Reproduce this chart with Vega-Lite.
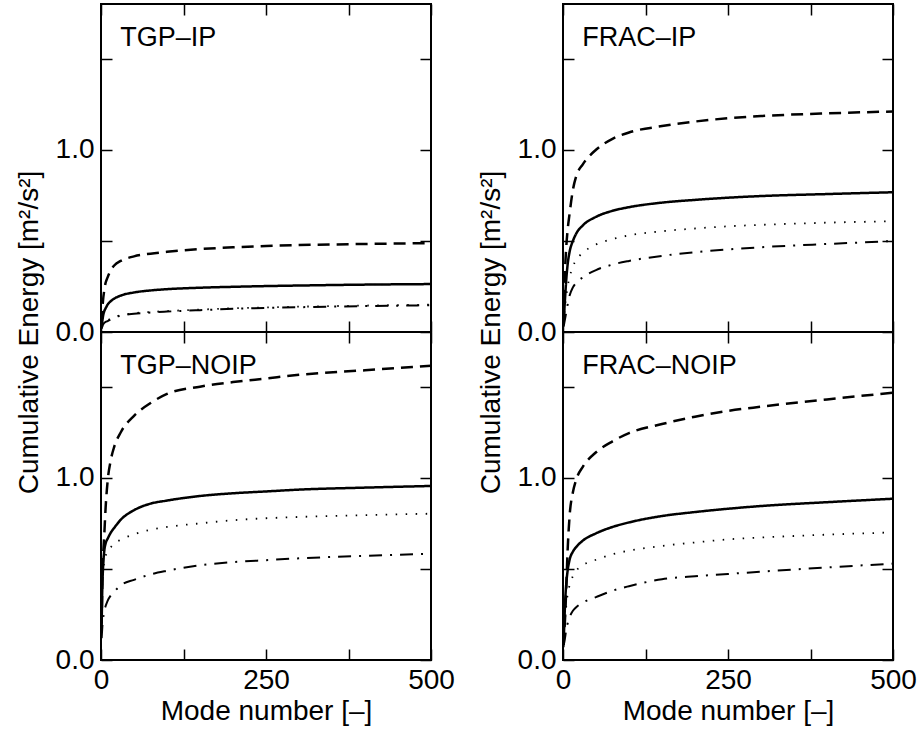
{
  "$schema": "https://vega.github.io/schema/vega-lite/v6.json",
  "background": "white",
  "padding": {"left": 14, "top": 2, "right": 5, "bottom": 5},
  "datasets": {
    "labels": [
      {"p": "TGP-IP", "label": "TGP–IP"},
      {"p": "FRAC-IP", "label": "FRAC–IP"},
      {"p": "TGP-NOIP", "label": "TGP–NOIP"},
      {"p": "FRAC-NOIP", "label": "FRAC–NOIP"}
    ],
    "curves": [
      {"p":"TGP-IP","s":"A","x":1,"y":0.02},{"p":"TGP-IP","s":"A","x":2,"y":0.06},{"p":"TGP-IP","s":"A","x":3,"y":0.085},{"p":"TGP-IP","s":"A","x":5,"y":0.115},{"p":"TGP-IP","s":"A","x":7,"y":0.13},{"p":"TGP-IP","s":"A","x":10,"y":0.15},{"p":"TGP-IP","s":"A","x":15,"y":0.17},{"p":"TGP-IP","s":"A","x":20,"y":0.183},{"p":"TGP-IP","s":"A","x":30,"y":0.2},{"p":"TGP-IP","s":"A","x":50,"y":0.217},{"p":"TGP-IP","s":"A","x":75,"y":0.228},{"p":"TGP-IP","s":"A","x":100,"y":0.235},{"p":"TGP-IP","s":"A","x":150,"y":0.243},{"p":"TGP-IP","s":"A","x":200,"y":0.248},{"p":"TGP-IP","s":"A","x":250,"y":0.252},{"p":"TGP-IP","s":"A","x":300,"y":0.255},{"p":"TGP-IP","s":"A","x":400,"y":0.26},{"p":"TGP-IP","s":"A","x":500,"y":0.263},
      {"p":"TGP-IP","s":"B","x":1,"y":0.05},{"p":"TGP-IP","s":"B","x":2,"y":0.12},{"p":"TGP-IP","s":"B","x":3,"y":0.17},{"p":"TGP-IP","s":"B","x":5,"y":0.23},{"p":"TGP-IP","s":"B","x":7,"y":0.27},{"p":"TGP-IP","s":"B","x":10,"y":0.3},{"p":"TGP-IP","s":"B","x":15,"y":0.34},{"p":"TGP-IP","s":"B","x":20,"y":0.365},{"p":"TGP-IP","s":"B","x":30,"y":0.39},{"p":"TGP-IP","s":"B","x":50,"y":0.415},{"p":"TGP-IP","s":"B","x":75,"y":0.43},{"p":"TGP-IP","s":"B","x":100,"y":0.44},{"p":"TGP-IP","s":"B","x":150,"y":0.455},{"p":"TGP-IP","s":"B","x":200,"y":0.465},{"p":"TGP-IP","s":"B","x":250,"y":0.472},{"p":"TGP-IP","s":"B","x":300,"y":0.477},{"p":"TGP-IP","s":"B","x":400,"y":0.483},{"p":"TGP-IP","s":"B","x":500,"y":0.488},
      {"p":"TGP-IP","s":"C","x":1,"y":0.03},{"p":"TGP-IP","s":"C","x":2,"y":0.04},{"p":"TGP-IP","s":"C","x":3,"y":0.045},{"p":"TGP-IP","s":"C","x":5,"y":0.055},{"p":"TGP-IP","s":"C","x":7,"y":0.06},{"p":"TGP-IP","s":"C","x":10,"y":0.065},{"p":"TGP-IP","s":"C","x":15,"y":0.073},{"p":"TGP-IP","s":"C","x":20,"y":0.082},{"p":"TGP-IP","s":"C","x":30,"y":0.092},{"p":"TGP-IP","s":"C","x":50,"y":0.103},{"p":"TGP-IP","s":"C","x":75,"y":0.11},{"p":"TGP-IP","s":"C","x":100,"y":0.115},{"p":"TGP-IP","s":"C","x":150,"y":0.123},{"p":"TGP-IP","s":"C","x":200,"y":0.13},{"p":"TGP-IP","s":"C","x":250,"y":0.135},{"p":"TGP-IP","s":"C","x":300,"y":0.139},{"p":"TGP-IP","s":"C","x":400,"y":0.145},{"p":"TGP-IP","s":"C","x":500,"y":0.15},
      {"p":"TGP-IP","s":"D","x":1,"y":0.02},{"p":"TGP-IP","s":"D","x":2,"y":0.03},{"p":"TGP-IP","s":"D","x":3,"y":0.04},{"p":"TGP-IP","s":"D","x":5,"y":0.05},{"p":"TGP-IP","s":"D","x":7,"y":0.055},{"p":"TGP-IP","s":"D","x":10,"y":0.06},{"p":"TGP-IP","s":"D","x":15,"y":0.07},{"p":"TGP-IP","s":"D","x":20,"y":0.08},{"p":"TGP-IP","s":"D","x":30,"y":0.09},{"p":"TGP-IP","s":"D","x":50,"y":0.1},{"p":"TGP-IP","s":"D","x":75,"y":0.107},{"p":"TGP-IP","s":"D","x":100,"y":0.112},{"p":"TGP-IP","s":"D","x":150,"y":0.12},{"p":"TGP-IP","s":"D","x":200,"y":0.127},{"p":"TGP-IP","s":"D","x":250,"y":0.132},{"p":"TGP-IP","s":"D","x":300,"y":0.136},{"p":"TGP-IP","s":"D","x":400,"y":0.142},{"p":"TGP-IP","s":"D","x":500,"y":0.147},

      {"p":"TGP-NOIP","s":"A","x":1,"y":0.2},{"p":"TGP-NOIP","s":"A","x":2,"y":0.4},{"p":"TGP-NOIP","s":"A","x":3,"y":0.5},{"p":"TGP-NOIP","s":"A","x":5,"y":0.6},{"p":"TGP-NOIP","s":"A","x":7,"y":0.64},{"p":"TGP-NOIP","s":"A","x":10,"y":0.665},{"p":"TGP-NOIP","s":"A","x":15,"y":0.7},{"p":"TGP-NOIP","s":"A","x":20,"y":0.725},{"p":"TGP-NOIP","s":"A","x":30,"y":0.77},{"p":"TGP-NOIP","s":"A","x":50,"y":0.822},{"p":"TGP-NOIP","s":"A","x":75,"y":0.858},{"p":"TGP-NOIP","s":"A","x":100,"y":0.875},{"p":"TGP-NOIP","s":"A","x":150,"y":0.9},{"p":"TGP-NOIP","s":"A","x":200,"y":0.915},{"p":"TGP-NOIP","s":"A","x":250,"y":0.925},{"p":"TGP-NOIP","s":"A","x":300,"y":0.935},{"p":"TGP-NOIP","s":"A","x":400,"y":0.946},{"p":"TGP-NOIP","s":"A","x":500,"y":0.955},
      {"p":"TGP-NOIP","s":"B","x":1,"y":0.18},{"p":"TGP-NOIP","s":"B","x":2,"y":0.43},{"p":"TGP-NOIP","s":"B","x":3,"y":0.55},{"p":"TGP-NOIP","s":"B","x":5,"y":0.69},{"p":"TGP-NOIP","s":"B","x":7,"y":0.836},{"p":"TGP-NOIP","s":"B","x":10,"y":0.98},{"p":"TGP-NOIP","s":"B","x":15,"y":1.1},{"p":"TGP-NOIP","s":"B","x":20,"y":1.17},{"p":"TGP-NOIP","s":"B","x":30,"y":1.25},{"p":"TGP-NOIP","s":"B","x":50,"y":1.34},{"p":"TGP-NOIP","s":"B","x":75,"y":1.41},{"p":"TGP-NOIP","s":"B","x":100,"y":1.46},{"p":"TGP-NOIP","s":"B","x":150,"y":1.5},{"p":"TGP-NOIP","s":"B","x":200,"y":1.525},{"p":"TGP-NOIP","s":"B","x":250,"y":1.545},{"p":"TGP-NOIP","s":"B","x":300,"y":1.565},{"p":"TGP-NOIP","s":"B","x":400,"y":1.59},{"p":"TGP-NOIP","s":"B","x":500,"y":1.615},
      {"p":"TGP-NOIP","s":"C","x":1,"y":0.3},{"p":"TGP-NOIP","s":"C","x":2,"y":0.42},{"p":"TGP-NOIP","s":"C","x":3,"y":0.48},{"p":"TGP-NOIP","s":"C","x":5,"y":0.54},{"p":"TGP-NOIP","s":"C","x":7,"y":0.57},{"p":"TGP-NOIP","s":"C","x":10,"y":0.6},{"p":"TGP-NOIP","s":"C","x":15,"y":0.62},{"p":"TGP-NOIP","s":"C","x":20,"y":0.64},{"p":"TGP-NOIP","s":"C","x":30,"y":0.66},{"p":"TGP-NOIP","s":"C","x":50,"y":0.69},{"p":"TGP-NOIP","s":"C","x":75,"y":0.715},{"p":"TGP-NOIP","s":"C","x":100,"y":0.73},{"p":"TGP-NOIP","s":"C","x":150,"y":0.75},{"p":"TGP-NOIP","s":"C","x":200,"y":0.767},{"p":"TGP-NOIP","s":"C","x":250,"y":0.778},{"p":"TGP-NOIP","s":"C","x":300,"y":0.785},{"p":"TGP-NOIP","s":"C","x":400,"y":0.795},{"p":"TGP-NOIP","s":"C","x":500,"y":0.803},
      {"p":"TGP-NOIP","s":"D","x":1,"y":0.12},{"p":"TGP-NOIP","s":"D","x":2,"y":0.18},{"p":"TGP-NOIP","s":"D","x":3,"y":0.22},{"p":"TGP-NOIP","s":"D","x":5,"y":0.27},{"p":"TGP-NOIP","s":"D","x":7,"y":0.296},{"p":"TGP-NOIP","s":"D","x":10,"y":0.325},{"p":"TGP-NOIP","s":"D","x":15,"y":0.355},{"p":"TGP-NOIP","s":"D","x":20,"y":0.375},{"p":"TGP-NOIP","s":"D","x":30,"y":0.41},{"p":"TGP-NOIP","s":"D","x":50,"y":0.44},{"p":"TGP-NOIP","s":"D","x":75,"y":0.47},{"p":"TGP-NOIP","s":"D","x":100,"y":0.49},{"p":"TGP-NOIP","s":"D","x":150,"y":0.52},{"p":"TGP-NOIP","s":"D","x":200,"y":0.537},{"p":"TGP-NOIP","s":"D","x":250,"y":0.548},{"p":"TGP-NOIP","s":"D","x":300,"y":0.558},{"p":"TGP-NOIP","s":"D","x":400,"y":0.572},{"p":"TGP-NOIP","s":"D","x":500,"y":0.583},

      {"p":"FRAC-IP","s":"A","x":1,"y":0.06},{"p":"FRAC-IP","s":"A","x":2,"y":0.12},{"p":"FRAC-IP","s":"A","x":3,"y":0.18},{"p":"FRAC-IP","s":"A","x":5,"y":0.29},{"p":"FRAC-IP","s":"A","x":7,"y":0.37},{"p":"FRAC-IP","s":"A","x":10,"y":0.44},{"p":"FRAC-IP","s":"A","x":15,"y":0.5},{"p":"FRAC-IP","s":"A","x":20,"y":0.54},{"p":"FRAC-IP","s":"A","x":30,"y":0.585},{"p":"FRAC-IP","s":"A","x":50,"y":0.632},{"p":"FRAC-IP","s":"A","x":75,"y":0.665},{"p":"FRAC-IP","s":"A","x":100,"y":0.685},{"p":"FRAC-IP","s":"A","x":150,"y":0.71},{"p":"FRAC-IP","s":"A","x":200,"y":0.725},{"p":"FRAC-IP","s":"A","x":250,"y":0.737},{"p":"FRAC-IP","s":"A","x":300,"y":0.746},{"p":"FRAC-IP","s":"A","x":400,"y":0.757},{"p":"FRAC-IP","s":"A","x":500,"y":0.767},
      {"p":"FRAC-IP","s":"B","x":1,"y":0.06},{"p":"FRAC-IP","s":"B","x":2,"y":0.22},{"p":"FRAC-IP","s":"B","x":3,"y":0.33},{"p":"FRAC-IP","s":"B","x":5,"y":0.47},{"p":"FRAC-IP","s":"B","x":7,"y":0.56},{"p":"FRAC-IP","s":"B","x":10,"y":0.65},{"p":"FRAC-IP","s":"B","x":15,"y":0.78},{"p":"FRAC-IP","s":"B","x":20,"y":0.855},{"p":"FRAC-IP","s":"B","x":30,"y":0.92},{"p":"FRAC-IP","s":"B","x":50,"y":1.0},{"p":"FRAC-IP","s":"B","x":75,"y":1.06},{"p":"FRAC-IP","s":"B","x":100,"y":1.095},{"p":"FRAC-IP","s":"B","x":150,"y":1.13},{"p":"FRAC-IP","s":"B","x":200,"y":1.155},{"p":"FRAC-IP","s":"B","x":250,"y":1.173},{"p":"FRAC-IP","s":"B","x":300,"y":1.185},{"p":"FRAC-IP","s":"B","x":400,"y":1.2},{"p":"FRAC-IP","s":"B","x":500,"y":1.21},
      {"p":"FRAC-IP","s":"C","x":1,"y":0.05},{"p":"FRAC-IP","s":"C","x":2,"y":0.1},{"p":"FRAC-IP","s":"C","x":3,"y":0.14},{"p":"FRAC-IP","s":"C","x":5,"y":0.2},{"p":"FRAC-IP","s":"C","x":7,"y":0.25},{"p":"FRAC-IP","s":"C","x":10,"y":0.3},{"p":"FRAC-IP","s":"C","x":15,"y":0.36},{"p":"FRAC-IP","s":"C","x":20,"y":0.395},{"p":"FRAC-IP","s":"C","x":30,"y":0.435},{"p":"FRAC-IP","s":"C","x":50,"y":0.48},{"p":"FRAC-IP","s":"C","x":75,"y":0.51},{"p":"FRAC-IP","s":"C","x":100,"y":0.53},{"p":"FRAC-IP","s":"C","x":150,"y":0.553},{"p":"FRAC-IP","s":"C","x":200,"y":0.568},{"p":"FRAC-IP","s":"C","x":250,"y":0.58},{"p":"FRAC-IP","s":"C","x":300,"y":0.588},{"p":"FRAC-IP","s":"C","x":400,"y":0.6},{"p":"FRAC-IP","s":"C","x":500,"y":0.608},
      {"p":"FRAC-IP","s":"D","x":1,"y":0.03},{"p":"FRAC-IP","s":"D","x":2,"y":0.05},{"p":"FRAC-IP","s":"D","x":3,"y":0.07},{"p":"FRAC-IP","s":"D","x":5,"y":0.11},{"p":"FRAC-IP","s":"D","x":7,"y":0.15},{"p":"FRAC-IP","s":"D","x":10,"y":0.2},{"p":"FRAC-IP","s":"D","x":15,"y":0.245},{"p":"FRAC-IP","s":"D","x":20,"y":0.27},{"p":"FRAC-IP","s":"D","x":30,"y":0.3},{"p":"FRAC-IP","s":"D","x":50,"y":0.34},{"p":"FRAC-IP","s":"D","x":75,"y":0.37},{"p":"FRAC-IP","s":"D","x":100,"y":0.39},{"p":"FRAC-IP","s":"D","x":150,"y":0.418},{"p":"FRAC-IP","s":"D","x":200,"y":0.438},{"p":"FRAC-IP","s":"D","x":250,"y":0.453},{"p":"FRAC-IP","s":"D","x":300,"y":0.465},{"p":"FRAC-IP","s":"D","x":400,"y":0.483},{"p":"FRAC-IP","s":"D","x":500,"y":0.499},

      {"p":"FRAC-NOIP","s":"A","x":1,"y":0.1},{"p":"FRAC-NOIP","s":"A","x":2,"y":0.2},{"p":"FRAC-NOIP","s":"A","x":3,"y":0.3},{"p":"FRAC-NOIP","s":"A","x":5,"y":0.42},{"p":"FRAC-NOIP","s":"A","x":7,"y":0.49},{"p":"FRAC-NOIP","s":"A","x":10,"y":0.55},{"p":"FRAC-NOIP","s":"A","x":15,"y":0.595},{"p":"FRAC-NOIP","s":"A","x":20,"y":0.62},{"p":"FRAC-NOIP","s":"A","x":30,"y":0.655},{"p":"FRAC-NOIP","s":"A","x":50,"y":0.695},{"p":"FRAC-NOIP","s":"A","x":75,"y":0.73},{"p":"FRAC-NOIP","s":"A","x":100,"y":0.755},{"p":"FRAC-NOIP","s":"A","x":150,"y":0.79},{"p":"FRAC-NOIP","s":"A","x":200,"y":0.812},{"p":"FRAC-NOIP","s":"A","x":250,"y":0.83},{"p":"FRAC-NOIP","s":"A","x":300,"y":0.845},{"p":"FRAC-NOIP","s":"A","x":400,"y":0.866},{"p":"FRAC-NOIP","s":"A","x":500,"y":0.885},
      {"p":"FRAC-NOIP","s":"B","x":1,"y":0.08},{"p":"FRAC-NOIP","s":"B","x":2,"y":0.15},{"p":"FRAC-NOIP","s":"B","x":3,"y":0.22},{"p":"FRAC-NOIP","s":"B","x":5,"y":0.4},{"p":"FRAC-NOIP","s":"B","x":7,"y":0.6},{"p":"FRAC-NOIP","s":"B","x":10,"y":0.79},{"p":"FRAC-NOIP","s":"B","x":15,"y":0.92},{"p":"FRAC-NOIP","s":"B","x":20,"y":0.99},{"p":"FRAC-NOIP","s":"B","x":30,"y":1.06},{"p":"FRAC-NOIP","s":"B","x":50,"y":1.14},{"p":"FRAC-NOIP","s":"B","x":75,"y":1.2},{"p":"FRAC-NOIP","s":"B","x":100,"y":1.245},{"p":"FRAC-NOIP","s":"B","x":150,"y":1.295},{"p":"FRAC-NOIP","s":"B","x":200,"y":1.335},{"p":"FRAC-NOIP","s":"B","x":250,"y":1.367},{"p":"FRAC-NOIP","s":"B","x":300,"y":1.39},{"p":"FRAC-NOIP","s":"B","x":400,"y":1.43},{"p":"FRAC-NOIP","s":"B","x":500,"y":1.467},
      {"p":"FRAC-NOIP","s":"C","x":1,"y":0.07},{"p":"FRAC-NOIP","s":"C","x":2,"y":0.15},{"p":"FRAC-NOIP","s":"C","x":3,"y":0.22},{"p":"FRAC-NOIP","s":"C","x":5,"y":0.3},{"p":"FRAC-NOIP","s":"C","x":7,"y":0.36},{"p":"FRAC-NOIP","s":"C","x":10,"y":0.41},{"p":"FRAC-NOIP","s":"C","x":15,"y":0.46},{"p":"FRAC-NOIP","s":"C","x":20,"y":0.49},{"p":"FRAC-NOIP","s":"C","x":30,"y":0.52},{"p":"FRAC-NOIP","s":"C","x":50,"y":0.55},{"p":"FRAC-NOIP","s":"C","x":75,"y":0.58},{"p":"FRAC-NOIP","s":"C","x":100,"y":0.6},{"p":"FRAC-NOIP","s":"C","x":150,"y":0.626},{"p":"FRAC-NOIP","s":"C","x":200,"y":0.645},{"p":"FRAC-NOIP","s":"C","x":250,"y":0.662},{"p":"FRAC-NOIP","s":"C","x":300,"y":0.672},{"p":"FRAC-NOIP","s":"C","x":400,"y":0.688},{"p":"FRAC-NOIP","s":"C","x":500,"y":0.7},
      {"p":"FRAC-NOIP","s":"D","x":1,"y":0.08},{"p":"FRAC-NOIP","s":"D","x":2,"y":0.1},{"p":"FRAC-NOIP","s":"D","x":3,"y":0.12},{"p":"FRAC-NOIP","s":"D","x":5,"y":0.17},{"p":"FRAC-NOIP","s":"D","x":7,"y":0.2},{"p":"FRAC-NOIP","s":"D","x":10,"y":0.235},{"p":"FRAC-NOIP","s":"D","x":15,"y":0.27},{"p":"FRAC-NOIP","s":"D","x":20,"y":0.29},{"p":"FRAC-NOIP","s":"D","x":30,"y":0.315},{"p":"FRAC-NOIP","s":"D","x":50,"y":0.345},{"p":"FRAC-NOIP","s":"D","x":75,"y":0.38},{"p":"FRAC-NOIP","s":"D","x":100,"y":0.405},{"p":"FRAC-NOIP","s":"D","x":150,"y":0.443},{"p":"FRAC-NOIP","s":"D","x":200,"y":0.46},{"p":"FRAC-NOIP","s":"D","x":250,"y":0.472},{"p":"FRAC-NOIP","s":"D","x":300,"y":0.485},{"p":"FRAC-NOIP","s":"D","x":400,"y":0.508},{"p":"FRAC-NOIP","s":"D","x":500,"y":0.529}
    ]
  },
  "columns": 2,
  "spacing": {"row": 0, "column": 132},
  "bounds": "flush",
  "concat": [
    {
      "width": 330, "height": 328,
      "layer": [
        {
          "data": {"name": "curves"},
          "transform": [{"filter": "datum.p == 'TGP-IP'"}],
          "mark": {"type": "line", "interpolate": "monotone", "color": "black", "strokeCap": "butt"},
          "encoding": {
            "x": {"field": "x", "type": "quantitative", "scale": {"domain": [0, 500], "nice": false, "zero": false},
                  "axis": {"orient": "bottom", "values": [0, 125, 250, 375, 500], "labels": false, "title": null}},
            "y": {"field": "y", "type": "quantitative", "scale": {"domain": [0, 1.8], "nice": false},
                  "axis": {"orient": "left", "values": [0, 0.5, 1, 1.5], "labelExpr": "datum.value == 0 || datum.value == 1 ? format(datum.value, '.1f') : ''", "labelPadding": 18,
                           "title": "Cumulative Energy [m²/s²]", "titleX": -64, "titleY": 328, "titleAngle": 270, "titleAlign": "center", "titleBaseline": "alphabetic"}},
            "detail": {"field": "s"},
            "strokeDash": {"field": "s", "type": "nominal", "scale": {"domain": ["A", "B", "C", "D"], "range": [[1, 0], [12, 7], [1.5, 8.5], [13, 8, 2, 8]]}, "legend": null},
            "strokeWidth": {"field": "s", "type": "nominal", "scale": {"type": "ordinal", "domain": ["A", "B", "C", "D"], "range": [2.5, 2.5, 1.8, 2]}, "legend": null}
          }
        },
        {
          "data": {"name": "labels"},
          "transform": [{"filter": "datum.p == 'TGP-IP'"}],
          "mark": {"type": "text", "align": "left", "baseline": "alphabetic", "fontSize": 27, "font": "Liberation Sans", "color": "black"},
          "encoding": {
            "x": {"datum": 29, "type": "quantitative", "axis": {"orient": "top", "values": [0, 125, 250, 375, 500], "labels": false, "title": null}},
            "y": {"datum": 1.57, "type": "quantitative", "axis": {"orient": "right", "values": [0, 0.5, 1, 1.5], "labels": false, "title": null}},
            "text": {"field": "label"}
          }
        }
      ],
      "resolve": {"axis": {"x": "independent", "y": "independent"}}
    },
    {
      "width": 330, "height": 328,
      "layer": [
        {
          "data": {"name": "curves"},
          "transform": [{"filter": "datum.p == 'FRAC-IP'"}],
          "mark": {"type": "line", "interpolate": "monotone", "color": "black", "strokeCap": "butt"},
          "encoding": {
            "x": {"field": "x", "type": "quantitative", "scale": {"domain": [0, 500], "nice": false, "zero": false},
                  "axis": {"orient": "bottom", "values": [0, 125, 250, 375, 500], "labels": false, "title": null}},
            "y": {"field": "y", "type": "quantitative", "scale": {"domain": [0, 1.8], "nice": false},
                  "axis": {"orient": "left", "values": [0, 0.5, 1, 1.5], "labelExpr": "datum.value == 0 || datum.value == 1 ? format(datum.value, '.1f') : ''", "labelPadding": 18,
                           "title": "Cumulative Energy [m²/s²]", "titleX": -64, "titleY": 328, "titleAngle": 270, "titleAlign": "center", "titleBaseline": "alphabetic"}},
            "detail": {"field": "s"},
            "strokeDash": {"field": "s", "type": "nominal", "scale": {"domain": ["A", "B", "C", "D"], "range": [[1, 0], [12, 7], [1.5, 8.5], [13, 8, 2, 8]]}, "legend": null},
            "strokeWidth": {"field": "s", "type": "nominal", "scale": {"type": "ordinal", "domain": ["A", "B", "C", "D"], "range": [2.5, 2.5, 1.8, 2]}, "legend": null}
          }
        },
        {
          "data": {"name": "labels"},
          "transform": [{"filter": "datum.p == 'FRAC-IP'"}],
          "mark": {"type": "text", "align": "left", "baseline": "alphabetic", "fontSize": 27, "font": "Liberation Sans", "color": "black"},
          "encoding": {
            "x": {"datum": 29, "type": "quantitative", "axis": {"orient": "top", "values": [0, 125, 250, 375, 500], "labels": false, "title": null}},
            "y": {"datum": 1.57, "type": "quantitative", "axis": {"orient": "right", "values": [0, 0.5, 1, 1.5], "labels": false, "title": null}},
            "text": {"field": "label"}
          }
        }
      ],
      "resolve": {"axis": {"x": "independent", "y": "independent"}}
    },
    {
      "width": 330, "height": 328,
      "layer": [
        {
          "data": {"name": "curves"},
          "transform": [{"filter": "datum.p == 'TGP-NOIP'"}],
          "mark": {"type": "line", "interpolate": "monotone", "color": "black", "strokeCap": "butt"},
          "encoding": {
            "x": {"field": "x", "type": "quantitative", "scale": {"domain": [0, 500], "nice": false, "zero": false},
                  "axis": {"orient": "bottom", "values": [0, 125, 250, 375, 500], "labelExpr": "datum.value % 250 == 0 ? format(datum.value, 'd') : ''", "labelBaseline": "alphabetic", "labelPadding": 39,
                           "title": "Mode number [–]", "titleY": 59, "titleBaseline": "alphabetic"}},
            "y": {"field": "y", "type": "quantitative", "scale": {"domain": [0, 1.8], "nice": false},
                  "axis": {"orient": "left", "values": [0, 0.5, 1, 1.5], "labelExpr": "datum.value == 0 || datum.value == 1 ? format(datum.value, '.1f') : ''", "labelPadding": 18, "title": null}},
            "detail": {"field": "s"},
            "strokeDash": {"field": "s", "type": "nominal", "scale": {"domain": ["A", "B", "C", "D"], "range": [[1, 0], [12, 7], [1.5, 8.5], [13, 8, 2, 8]]}, "legend": null},
            "strokeWidth": {"field": "s", "type": "nominal", "scale": {"type": "ordinal", "domain": ["A", "B", "C", "D"], "range": [2.5, 2.5, 1.8, 2]}, "legend": null}
          }
        },
        {
          "data": {"name": "labels"},
          "transform": [{"filter": "datum.p == 'TGP-NOIP'"}],
          "mark": {"type": "text", "align": "left", "baseline": "alphabetic", "fontSize": 27, "font": "Liberation Sans", "color": "black"},
          "encoding": {
            "x": {"datum": 29, "type": "quantitative", "axis": {"orient": "top", "values": [0, 125, 250, 375, 500], "labels": false, "title": null}},
            "y": {"datum": 1.57, "type": "quantitative", "axis": {"orient": "right", "values": [0, 0.5, 1, 1.5], "labels": false, "title": null}},
            "text": {"field": "label"}
          }
        }
      ],
      "resolve": {"axis": {"x": "independent", "y": "independent"}}
    },
    {
      "width": 330, "height": 328,
      "layer": [
        {
          "data": {"name": "curves"},
          "transform": [{"filter": "datum.p == 'FRAC-NOIP'"}],
          "mark": {"type": "line", "interpolate": "monotone", "color": "black", "strokeCap": "butt"},
          "encoding": {
            "x": {"field": "x", "type": "quantitative", "scale": {"domain": [0, 500], "nice": false, "zero": false},
                  "axis": {"orient": "bottom", "values": [0, 125, 250, 375, 500], "labelExpr": "datum.value % 250 == 0 ? format(datum.value, 'd') : ''", "labelBaseline": "alphabetic", "labelPadding": 39,
                           "title": "Mode number [–]", "titleY": 59, "titleBaseline": "alphabetic"}},
            "y": {"field": "y", "type": "quantitative", "scale": {"domain": [0, 1.8], "nice": false},
                  "axis": {"orient": "left", "values": [0, 0.5, 1, 1.5], "labelExpr": "datum.value == 0 || datum.value == 1 ? format(datum.value, '.1f') : ''", "labelPadding": 18, "title": null}},
            "detail": {"field": "s"},
            "strokeDash": {"field": "s", "type": "nominal", "scale": {"domain": ["A", "B", "C", "D"], "range": [[1, 0], [12, 7], [1.5, 8.5], [13, 8, 2, 8]]}, "legend": null},
            "strokeWidth": {"field": "s", "type": "nominal", "scale": {"type": "ordinal", "domain": ["A", "B", "C", "D"], "range": [2.5, 2.5, 1.8, 2]}, "legend": null}
          }
        },
        {
          "data": {"name": "labels"},
          "transform": [{"filter": "datum.p == 'FRAC-NOIP'"}],
          "mark": {"type": "text", "align": "left", "baseline": "alphabetic", "fontSize": 27, "font": "Liberation Sans", "color": "black"},
          "encoding": {
            "x": {"datum": 29, "type": "quantitative", "axis": {"orient": "top", "values": [0, 125, 250, 375, 500], "labels": false, "title": null}},
            "y": {"datum": 1.57, "type": "quantitative", "axis": {"orient": "right", "values": [0, 0.5, 1, 1.5], "labels": false, "title": null}},
            "text": {"field": "label"}
          }
        }
      ],
      "resolve": {"axis": {"x": "independent", "y": "independent"}}
    }
  ],
  "config": {
    "font": "Liberation Sans",
    "view": {"stroke": "black", "strokeWidth": 2},
    "axis": {
      "domain": false, "grid": false,
      "tickSize": -11, "tickWidth": 1.5, "tickColor": "black",
      "labelFont": "Liberation Sans", "labelFontSize": 28, "labelColor": "black",
      "labelFlush": false, "labelOverlap": false,
      "titleFont": "Liberation Sans", "titleFontSize": 28, "titleFontWeight": "normal", "titleColor": "black"
    }
  }
}
